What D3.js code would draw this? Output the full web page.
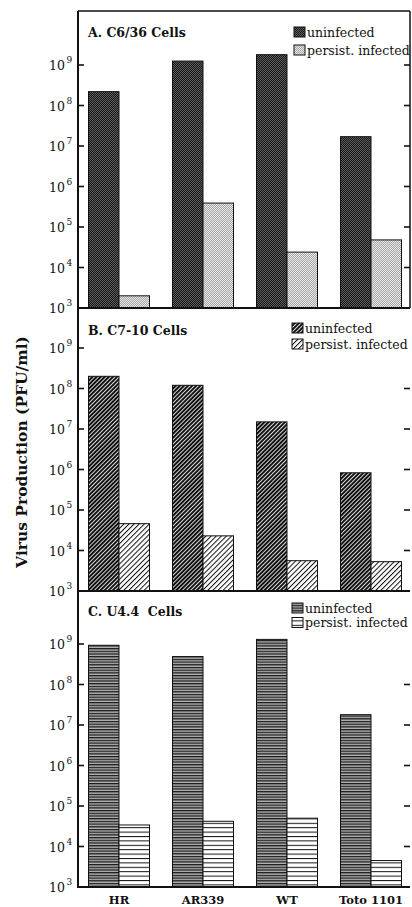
<!DOCTYPE html>
<html><head><meta charset="utf-8">
<script src="https://cdn.jsdelivr.net/npm/d3@7/dist/d3.min.js"></script>
<style>
html,body{margin:0;padding:0;background:#fff;}
svg{display:block;}
text{font-family:"DejaVu Serif","Liberation Serif",serif;fill:#111;}
</style></head>
<body>
<svg id="chart" width="412" height="907"></svg>
<script>
// ---------- data ----------
const categories = ["HR", "AR339", "WT", "Toto 1101"];
const seriesNames = ["uninfected", "persist. infected"];
const panelTitles = ["A. C6/36 Cells", "B. C7-10 Cells", "C. U4.4\u00a0 Cells"];
const tickExponents = [3, 4, 5, 6, 7, 8, 9];
const yLabel = "Virus Production (PFU/ml)";

const c636Uninfected = [2.2e8, 1.25e9, 1.8e9, 1.7e7];
const c636Persist    = [2.0e3, 3.9e5, 2.4e4, 4.8e4];
const c710Uninfected = [2.0e8, 1.2e8, 1.5e7, 8.3e5];
const c710Persist    = [4.6e4, 2.3e4, 5.6e3, 5.3e3];
const u44Uninfected  = [9.3e8, 4.9e8, 1.3e9, 1.8e7];
const u44Persist     = [3.4e4, 4.2e4, 5.0e4, 4.5e3];

const panelSeries = [
  [c636Uninfected, c636Persist],
  [c710Uninfected, c710Persist],
  [u44Uninfected, u44Persist]
];

// ---------- layout ----------
const axisX = 78, rightX = 410;
const panels = [
  {top: 11,  bottom: 308, titleY: 37,  legTop: 27,  legStep: 18, legX: 294, rightTicks: [4,5,6,7,8,9], frame: true},
  {top: 308, bottom: 591, titleY: 335, legTop: 323, legStep: 16, legX: 292, rightTicks: [4,5,6,7,8], frame: false},
  {top: 591, bottom: 887, titleY: 616, legTop: 603, legStep: 14.5, legX: 292, rightTicks: [4,5,6,7,8], frame: false}
];
const decadePx = 40.5;

const svg = d3.select("#chart");
const defs = svg.append("defs");

// ---------- patterns ----------
function stipple(id, bg, dot) {
  const p = defs.append("pattern").attr("id", id).attr("patternUnits", "userSpaceOnUse")
    .attr("width", 2).attr("height", 2);
  p.append("rect").attr("width", 2).attr("height", 2).attr("fill", bg);
  p.append("rect").attr("width", 1).attr("height", 1).attr("fill", dot);
  p.append("rect").attr("x", 1).attr("y", 1).attr("width", 1).attr("height", 1).attr("fill", dot);
}
stipple("pA0", "#5a5a5a", "#1a1a1a");
stipple("pA1", "#e6e6e6", "#a8a8a8");

function diag(id, bg, line, w, period) {
  const p = defs.append("pattern").attr("id", id).attr("patternUnits", "userSpaceOnUse")
    .attr("width", period).attr("height", period).attr("patternTransform", "rotate(45)");
  p.append("rect").attr("width", period).attr("height", period).attr("fill", bg);
  p.append("rect").attr("width", w).attr("height", period).attr("fill", line);
}
diag("pB0", "#111", "#e8e8e8", 0.9, 2.9);
diag("pB1", "#fff", "#111", 1.0, 3.6);

function horiz(id, bg, line, w, period) {
  const p = defs.append("pattern").attr("id", id).attr("patternUnits", "userSpaceOnUse")
    .attr("width", 4).attr("height", period);
  p.append("rect").attr("width", 4).attr("height", period).attr("fill", bg);
  p.append("rect").attr("width", 4).attr("height", w).attr("fill", line);
}
horiz("pC0", "#b5b5b5", "#1a1a1a", 1.3, 2.7);
horiz("pC1", "#fff", "#111", 1.0, 4.4);

const fills = [["url(#pA0)", "url(#pA1)"], ["url(#pB0)", "url(#pB1)"], ["url(#pC0)", "url(#pC1)"]];

// ---------- scales ----------
const x0 = d3.scaleBand().domain(categories).range([77, 413]).paddingInner(0).paddingOuter(0);
const innerW = 30.5;
const x1 = d3.scaleBand().domain(seriesNames).range([(84 - 2 * innerW) / 2, (84 - 2 * innerW) / 2 + 2 * innerW]);

panels.forEach((pn, pi) => {
  const y = d3.scaleLog().domain([1e3, 1e9]).range([pn.bottom, pn.bottom - 6 * decadePx]);
  const g = svg.append("g");

  // bars
  const groups = g.selectAll("g.grp").data(categories).join("g")
    .attr("transform", d => `translate(${x0(d)},0)`);
  seriesNames.forEach((s, si) => {
    groups.append("rect")
      .attr("x", x1(s))
      .attr("width", x1.bandwidth())
      .attr("y", (d, i) => y(panelSeries[pi][si][i]))
      .attr("height", (d, i) => pn.bottom - y(panelSeries[pi][si][i]))
      .attr("fill", fills[pi][si])
      .attr("stroke", "#111").attr("stroke-width", 1);
  });

  // left ticks + labels
  tickExponents.forEach(e => {
    const ty = y(Math.pow(10, e));
    g.append("line").attr("x1", axisX).attr("x2", axisX + 6).attr("y1", ty).attr("y2", ty)
      .attr("stroke", "#111").attr("stroke-width", 1.6);
    g.append("text").attr("x", 65).attr("y", ty + 5).attr("text-anchor", "end")
      .style("font-size", "12.5px").text("10");
    g.append("text").attr("x", 66.5).attr("y", ty - 2).style("font-size", "9px").text(e);
  });

  // right ticks
  pn.rightTicks.forEach(e => {
    const ty = y(Math.pow(10, e));
    g.append("line").attr("x1", rightX - 6).attr("x2", rightX).attr("y1", ty).attr("y2", ty)
      .attr("stroke", "#111").attr("stroke-width", 1.6);
  });

  // bottom axis line
  g.append("line").attr("x1", axisX).attr("x2", rightX).attr("y1", pn.bottom).attr("y2", pn.bottom)
    .attr("stroke", "#111").attr("stroke-width", 2);

  if (pn.frame) {
    g.append("line").attr("x1", axisX).attr("x2", rightX).attr("y1", pn.top).attr("y2", pn.top)
      .attr("stroke", "#111").attr("stroke-width", 1.5);
    g.append("line").attr("x1", rightX).attr("x2", rightX).attr("y1", pn.top).attr("y2", pn.bottom)
      .attr("stroke", "#111").attr("stroke-width", 1.5);
  }

  // title
  g.append("text").attr("x", 88).attr("y", pn.titleY).style("font-size", "12.5px")
    .style("font-weight", "bold").text(panelTitles[pi]);

  // legend
  seriesNames.forEach((s, si) => {
    const ly = pn.legTop + si * pn.legStep;
    g.append("rect").attr("x", pn.legX).attr("y", ly).attr("width", 11).attr("height", 10)
      .attr("fill", fills[pi][si]).attr("stroke", "#111").attr("stroke-width", 1);
    g.append("text").attr("x", pn.legX + 13).attr("y", ly + 9.5).style("font-size", "12.5px").text(s);
  });
});

// left axis line
svg.append("line").attr("x1", axisX).attr("x2", axisX).attr("y1", 11).attr("y2", 888)
  .attr("stroke", "#111").attr("stroke-width", 2);

// x labels
svg.selectAll("text.xl").data(categories).join("text").attr("class", "xl")
  .attr("x", d => x0(d) + x0.bandwidth() / 2).attr("y", 904).attr("text-anchor", "middle")
  .style("font-size", "11.5px").style("font-weight", "bold").text(d => d);

// y label
svg.append("text").attr("transform", "translate(27,452) rotate(-90)").attr("text-anchor", "middle")
  .style("font-size", "15.5px").style("font-weight", "bold").text(yLabel);
</script>
</body></html>
